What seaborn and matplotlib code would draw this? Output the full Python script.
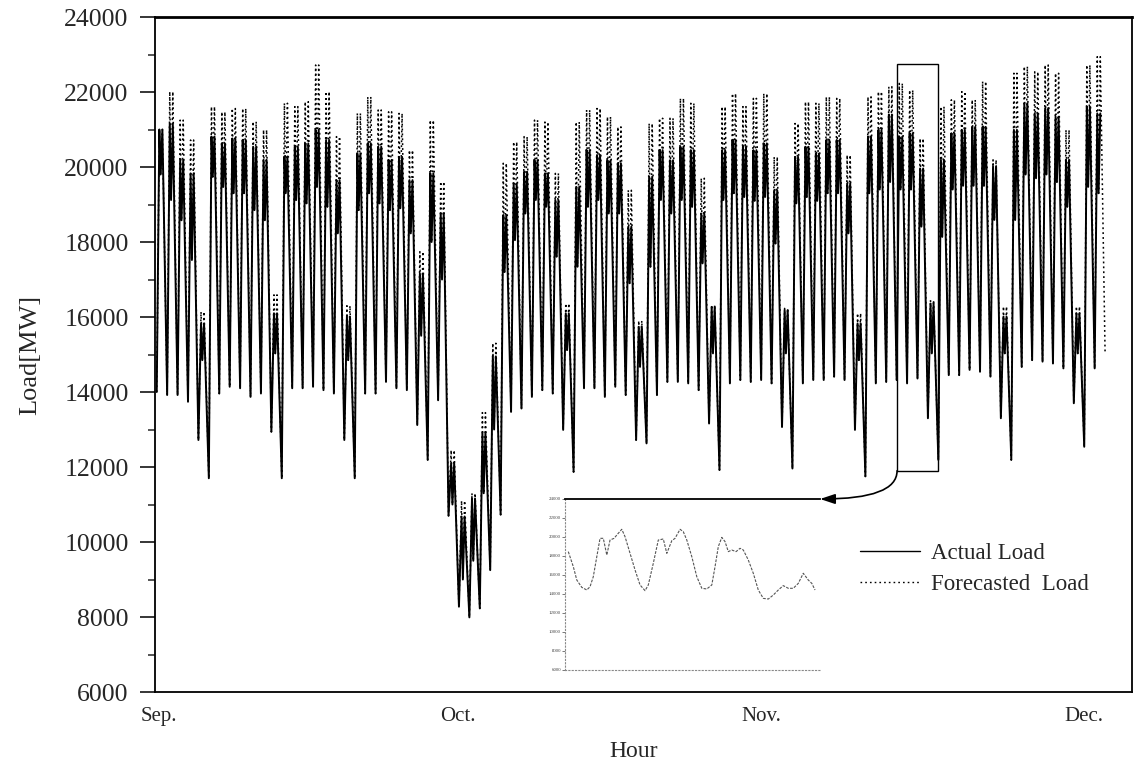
import matplotlib
matplotlib.use("Agg")
import matplotlib.pyplot as plt
from matplotlib.lines import Line2D
from matplotlib.patches import Rectangle
import pandas as pd
import seaborn as sns

# daily values (day 0 = Sep. 1st), MW
day_low = [14000, 13920, 13920, 13740, 12720, 11700, 13960, 14140, 14100, 13870,
           13960, 12940, 11700, 14100, 14100, 14140, 14050, 13960, 12720, 11700,
           13960, 13960, 14270, 14100, 14050, 13120, 12190, 13780, 10700, 8275,
           7990, 8230, 9250, 10730, 13470, 13560, 13870, 14050, 13960, 12990,
           11870, 14100, 14100, 13870, 14140, 13920, 12720, 12630, 13920, 14270,
           14270, 14230, 14050, 13160, 11920, 14230, 14320, 14270, 14320, 14230,
           13070, 11960, 14230, 14320, 14320, 14410, 14320, 12990, 11750, 14230,
           14270, 14320, 14230, 14360, 13300, 12190, 14450, 14450, 14590, 14540,
           14410, 13300, 12190, 14670, 14850, 14810, 14760, 14630, 13700, 12540,
           14630, 15040]
day_band = [19800, 19120, 18580, 17520, 14850, 19740, 19470, 19300, 19300, 18850,
            18580, 15030, 19300, 19120, 19030, 19470, 18940, 18230, 14850, 18850,
            19300, 19030, 18850, 18900, 18230, 15500, 18000, 17000, 11000, 9000,
            9500, 11300, 13000, 17200, 18050, 18760, 19120, 18940, 17610, 15120,
            17340, 18940, 19120, 18760, 18760, 16900, 14670, 17340, 19120, 18760,
            19120, 18940, 17430, 15030, 19120, 19300, 19200, 19100, 19200, 17960,
            15030, 19030, 19200, 19100, 19300, 19300, 18230, 14850, 19300, 19400,
            19600, 19400, 19400, 18410, 15030, 18140, 19400, 19500, 19500, 19500,
            18590, 15030, 18590, 19800, 19700, 19800, 19600, 18940, 15030, 19470,
            19300]
actual_peak = [21000, 21160, 20190, 19830, 15830, 20810, 20630, 20760, 20720, 20540,
               20190, 16100, 20280, 20540, 20630, 20990, 20720, 19650, 16010, 20360,
               20630, 20540, 20190, 20270, 19650, 17160, 19830, 18760, 12100, 10680,
               11160, 12900, 14950, 18720, 19560, 19870, 20180, 19830, 19120, 16100,
               19470, 20450, 20320, 20180, 20100, 18410, 15740, 19740, 20450, 20180,
               20540, 20450, 18760, 16270, 20450, 20720, 20540, 20450, 20630, 19380,
               16180, 20270, 20540, 20360, 20720, 20720, 19560, 15830, 20810, 20990,
               21400, 20810, 20900, 19960, 16360, 20190, 20900, 20990, 21070, 21070,
               20010, 16010, 20990, 21700, 21430, 21570, 21340, 20190, 16100, 21610,
               21430]
forecast_peak = [21000, 22010, 21250, 20720, 16140, 21610, 21470, 21560, 21560, 21210,
                 20990, 16590, 21700, 21610, 21740, 22720, 22010, 20810, 16300, 21430,
                 21870, 21520, 21470, 21430, 20450, 17740, 21250, 19610, 12450, 11100,
                 11300, 13450, 15300, 20100, 20670, 20810, 21250, 21200, 19830, 16360,
                 21200, 21520, 21560, 21340, 21070, 19380, 15900, 21160, 21300, 21300,
                 21830, 21700, 19700, 16320, 21610, 21960, 21610, 21830, 21960, 20270,
                 16230, 21160, 21740, 21700, 21870, 21830, 20320, 16100, 21870, 22010,
                 22140, 22230, 22050, 20760, 16450, 21610, 21790, 22010, 21790, 22280,
                 20190, 16280, 22500, 22680, 22540, 22720, 22500, 20990, 16280, 22720,
                 22940]

# zoomed window (inset), hour within window and load
inset_hour = [1.3, 3.3, 4.7, 6.7, 8.7, 10, 11.3, 12.7, 14, 15.3, 16.7, 18, 19.6, 21.3,
              22.7, 24, 26, 28, 30, 32, 33.3, 35.3, 37.3, 39.3, 40.7, 42.7, 44, 46,
              47.3, 48.7, 50.7, 52.7, 54.7, 56.7, 58.7, 60, 61.3, 62.7, 64, 65.3,
              66.7, 68.4, 70, 71.3, 73.3, 75.3, 77.3, 79.3, 81.3, 83.3, 85.3, 87.3,
              89.3, 91.3, 93.3, 95.3, 97.3, 98.7, 100]
inset_load = [18460, 16880, 15470, 14700, 14420, 14770, 15820, 17930, 19860, 19860,
              18100, 19680, 19860, 20390, 20810, 20030, 18280, 16530, 14950, 14350,
              14950, 17230, 19680, 19790, 18280, 19610, 19860, 20810, 20560, 19680,
              17930, 15820, 14600, 14530, 14950, 16880, 18980, 19960, 19510, 18460,
              18630, 18460, 18810, 18630, 17580, 16180, 14420, 13540, 13470, 13890,
              14420, 14880, 14600, 14600, 15120, 16180, 15470, 15120, 14420]

month_labels = ['Sep.', 'Oct.', 'Nov.', 'Dec.']
month_hours = [10, 698, 1396, 2140]
zoom_box = (1709, 1803, 11900, 22750)  # hour from, hour to, MW low, MW high

# samples inside each day: night low, morning peak, noon dip, afternoon peak
hour_low, hour_am, hour_noon, hour_pm = 4, 10, 13, 17


def build_series(name, peaks, extra_low=False):
    rows = []
    for d, peak in enumerate(peaks):
        base = 24 * d
        rows += [(base + hour_low, day_low[d]), (base + hour_am, peak),
                 (base + hour_noon, day_band[d]), (base + hour_pm, peak)]
    if extra_low:
        rows.append((24 * len(peaks) + hour_low, day_low[len(peaks)]))
    df = pd.DataFrame(rows, columns=['hour', 'load'])
    df['series'] = name
    return df


df = pd.concat([build_series('Actual Load', actual_peak),
                build_series('Forecasted Load', forecast_peak, extra_low=True)],
               ignore_index=True)

sns.set_style('white')
plt.rcParams['font.family'] = ['Liberation Serif', 'DejaVu Serif']

fig = plt.figure(figsize=(11.36, 7.67), dpi=100)
ax = fig.add_axes([0.13644, 0.09778, 0.86004, 0.88005])

sns.lineplot(data=df, x='hour', y='load', style='series', size='series',
             sizes={'Actual Load': 1.4, 'Forecasted Load': 1.1}, color='black',
             dashes={'Actual Load': '', 'Forecasted Load': (1.2, 2.0)},
             estimator=None, sort=False, legend=False, ax=ax)

ax.set_xlim(0, 2250)
ax.set_ylim(6000, 24000)
ax.set_yticks(range(6000, 24001, 2000))
ax.set_yticks(range(6000, 24001, 1000), minor=True)
ax.tick_params(axis='y', which='major', direction='out', length=11, width=1.3,
               pad=8, labelsize=18.5, left=True)
ax.tick_params(axis='y', which='minor', direction='out', length=5, width=1.1, left=True)
ax.set_xticks(month_hours)
ax.set_xticklabels(month_labels)
ax.tick_params(axis='x', length=0, pad=11, labelsize=15)
for side in ['left', 'right', 'bottom', 'top']:
    ax.spines[side].set_color('black')
    ax.spines[side].set_linewidth(1.3)
ax.spines['top'].set_linewidth(2.0)

ax.set_ylabel('Load[MW]', fontsize=19)
ax.yaxis.set_label_coords(-0.116, 0.5)
ax.set_xlabel('Hour', fontsize=17)
ax.xaxis.set_label_coords(0.49, -0.072)

# box marking the zoomed window
x0, x1, y0, y1 = zoom_box
ax.add_patch(Rectangle((x0, y0), x1 - x0, y1 - y0, fill=False, edgecolor='black', lw=1.0))

# inset with the zoomed window
ins = fig.add_axes([0.4974, 0.12647, 0.22447, 0.22295])
ins.set_facecolor('none')
sns.lineplot(x=inset_hour, y=inset_load, color='#555555', linewidth=0.8,
             linestyle=(0, (2.5, 1.2)), ax=ins)
ins.set_xlim(0, 102)
ins.set_ylim(6000, 24000)
ins.set_yticks(range(6000, 24001, 2000))
ins.set_yticklabels([str(v) for v in range(6000, 24001, 2000)])
ins.set_xticks([])
ins.tick_params(axis='y', length=2, width=0.5, pad=1, labelsize=3.5,
                colors='#444444', left=True)
ins.spines['right'].set_visible(False)
ins.spines['top'].set_color('black')
ins.spines['top'].set_linewidth(1.3)
for side in ['left', 'bottom']:
    ins.spines[side].set_color('#888888')
    ins.spines[side].set_linewidth(0.8)
    ins.spines[side].set_linestyle((0, (1, 2)))
ins.set_xlabel('')
ins.set_ylabel('')

ax.annotate('', xy=(1.0, 1.0), xycoords=ins.transAxes,
            xytext=(x0, y0), textcoords='data',
            arrowprops=dict(arrowstyle='-|>,head_length=0.9,head_width=0.3',
                            connectionstyle='angle3,angleA=90,angleB=0',
                            color='black', lw=1.2, shrinkA=0, shrinkB=0))

handles = [Line2D([], [], color='black', lw=1.0),
           Line2D([], [], color='black', lw=1.0, linestyle=(0, (1.2, 2.2)))]
ax.legend(handles, ['Actual Load', 'Forecasted  Load'], frameon=False,
          loc='upper left', bbox_to_anchor=(0.757, 0.292), bbox_transform=fig.transFigure,
          fontsize=16.5, handlelength=2.6, handletextpad=0.5, labelspacing=0.45,
          borderpad=0, borderaxespad=0)

fig.savefig('out.png', dpi=100)
